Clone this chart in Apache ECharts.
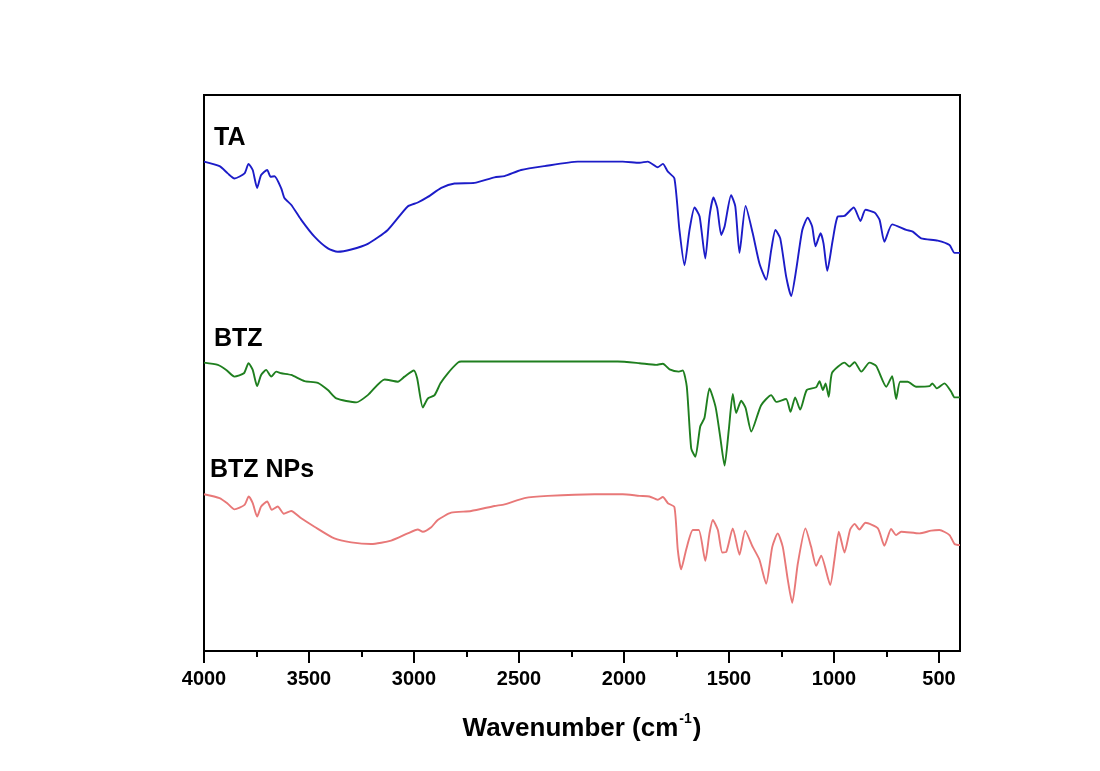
<!DOCTYPE html>
<html><head><meta charset="utf-8">
<script src="https://cdn.jsdelivr.net/npm/echarts@6/dist/echarts.min.js"></script>
<style>html,body{margin:0;padding:0;background:#fff}#c{width:1100px;height:771px}</style>
</head><body><div id="c"></div>
<script>
// Wavenumber (cm-1) and relative transmittance (a.u., stacked offsets)
const taWn = [4000,3926,3887,3855,3807,3788,3768,3747,3728,3699,3683,3664,3632,3617,3585,3537,3474,3410,3363,3299,3220,3125,3030,2982,2934,2870,2807,2712,2617,2569,2490,2379,2220,2140,2006,1926,1887,1839,1815,1791,1760,1736,1712,1688,1664,1640,1613,1593,1574,1556,1537,1521,1490,1470,1450,1421,1387,1355,1323,1299,1279,1256,1228,1204,1180,1151,1125,1104,1088,1064,1050,1032,1006,982,950,906,874,850,807,783,760,723,656,625,585,506,450,426,400];
const taT = [88.1,87.3,86.0,85.1,86.0,87.7,86.6,83.4,85.7,86.6,85.4,85.5,83.3,81.6,80.4,77.7,74.7,72.6,72.0,72.4,73.4,75.9,80.1,80.8,81.8,83.4,84.2,84.3,85.3,85.5,86.6,87.3,88.1,88.1,88.1,87.9,88.1,87.1,87.7,86.3,85.1,75.9,69.6,75.9,79.9,78.3,70.8,78.3,81.7,79.8,75.0,76.5,82.1,80.1,71.8,80.2,75.3,69.9,67.0,72.3,75.9,74.4,67.6,64.1,68.8,75.9,78.1,76.5,73.0,75.3,73.5,68.6,74.1,78.3,78.4,79.9,77.5,79.5,79.0,77.7,73.8,76.9,75.9,75.6,74.4,74.0,73.2,71.8,71.8];

const btzWn = [4000,3934,3894,3855,3810,3788,3768,3747,3728,3704,3680,3656,3632,3585,3521,3458,3410,3370,3275,3220,3140,3077,3045,3001,2985,2958,2934,2902,2874,2839,2791,2775,2030,1926,1847,1815,1783,1739,1720,1701,1680,1660,1637,1617,1593,1564,1542,1521,1501,1482,1466,1442,1421,1394,1347,1299,1275,1228,1207,1185,1161,1130,1085,1069,1053,1040,1025,1009,950,926,902,870,831,799,751,723,704,685,649,609,545,532,510,474,442,426,400];
const btzT = [52.2,51.8,50.9,49.7,50.3,52.1,50.9,48.0,50.0,50.9,49.7,50.6,50.3,50.0,48.9,48.6,47.3,45.8,45.1,46.4,49.2,48.8,49.7,50.8,49.4,44.2,45.8,46.4,48.5,50.3,52.2,52.4,52.4,52.1,51.8,52.0,51.0,50.6,50.8,47.9,36.9,35.4,40.8,42.3,47.6,44.3,39.0,33.8,40.2,46.6,43.2,45.4,44.1,39.9,44.6,46.4,45.2,45.7,43.4,46.0,43.8,47.3,47.8,48.9,47.3,48.5,46.1,50.4,52.2,51.5,52.3,50.6,52.2,51.6,47.9,49.8,45.7,48.8,48.8,47.9,48.0,48.5,47.6,48.5,47.0,46.0,46.0];

const npWn = [4000,3926,3887,3855,3807,3787,3768,3747,3728,3699,3677,3649,3620,3585,3537,3474,3379,3299,3204,3109,3030,2982,2958,2918,2887,2823,2728,2617,2569,2474,2363,2140,2006,1926,1879,1839,1815,1791,1760,1744,1728,1704,1672,1644,1613,1593,1577,1553,1532,1513,1482,1450,1423,1387,1355,1323,1294,1268,1244,1220,1199,1172,1136,1109,1085,1061,1018,998,977,950,923,902,879,850,791,760,728,704,680,593,537,498,450,426,400];
const npT = [28.7,28.0,27.0,26.0,26.8,28.3,27.1,24.7,26.5,27.4,25.9,26.5,25.2,25.7,24.4,22.9,20.8,20.1,19.8,20.4,21.7,22.4,22.0,22.8,24.1,25.4,25.7,26.6,26.9,28.0,28.4,28.7,28.7,28.4,28.3,27.7,28.2,27.1,26.4,18.8,15.3,18.8,22.3,22.3,16.8,21.7,24.1,22.3,18.3,18.4,22.6,17.9,22.2,19.3,17.0,12.7,19.3,21.7,19.3,13.4,9.3,16.4,22.6,19.3,15.9,17.7,12.5,17.0,22.0,18.3,22.4,23.4,22.4,23.6,22.6,19.5,22.5,21.4,22.0,21.7,22.2,22.3,21.4,19.8,19.6];

const majorTicks = [4000,3500,3000,2500,2000,1500,1000,500];
const minorTicks = [3750,3250,2750,2250,1750,1250,750];
const seriesNames = ['TA','BTZ','BTZ NPs'];
const seriesColors = ['#1c1cc8','#1f7f1f','#e87878'];

const zip = (a,b) => a.map((v,i) => [v,b[i]]);
const FONT = '"Liberation Sans", Arial, sans-serif';

const chart = echarts.init(document.getElementById('c'));
chart.setOption({
  animation: false,
  backgroundColor: '#ffffff',
  grid: { left: 204, right: 140, top: 95, bottom: 120, show: true, borderColor: '#000', borderWidth: 2, backgroundColor: 'transparent' },
  xAxis: [{
    type: 'value', min: 400, max: 4000, inverse: true, position: 'bottom',
    axisLine: { show: true, lineStyle: { color: '#000', width: 2 } },
    axisTick: { show: true, length: 12, lineStyle: { color: '#000', width: 2 }, customValues: majorTicks },
    axisLabel: { show: true, customValues: majorTicks, margin: 18, color: '#000', fontSize: 20, fontWeight: 'bold', fontFamily: FONT, formatter: v => String(v) },
    splitLine: { show: false },
    name: 'Wavenumber (cm{sup|-1})', nameLocation: 'middle', nameGap: 61,
    nameTextStyle: { color: '#000', fontSize: 26, fontWeight: 'bold', fontFamily: FONT,
      rich: { sup: { fontSize: 14, fontWeight: 'bold', fontFamily: FONT, color: '#000', verticalAlign: 'top', padding: [0,1,20,1] } } }
  },{
    type: 'value', min: 400, max: 4000, inverse: true, position: 'bottom',
    axisLine: { show: false },
    axisTick: { show: true, length: 6, lineStyle: { color: '#000', width: 2 }, customValues: minorTicks },
    axisLabel: { show: false }, splitLine: { show: false }
  }],
  yAxis: { type: 'value', min: 0.7, max: 100, show: false, splitLine: { show: false } },
  graphic: [
    { type: 'text', left: 214, top: 126, style: { text: seriesNames[0], fill: '#000', font: 'bold 25px ' + FONT } },
    { type: 'text', left: 214, top: 327, style: { text: seriesNames[1], fill: '#000', font: 'bold 25px ' + FONT } },
    { type: 'text', left: 210, top: 458, style: { text: seriesNames[2], fill: '#000', font: 'bold 25px ' + FONT } }
  ],
  series: [
    { name: seriesNames[0], type: 'line', data: zip(taWn, taT), showSymbol: false, smooth: 0.2, lineStyle: { color: seriesColors[0], width: 1.9 }, itemStyle: { color: seriesColors[0] } },
    { name: seriesNames[1], type: 'line', data: zip(btzWn, btzT), showSymbol: false, smooth: 0.2, lineStyle: { color: seriesColors[1], width: 1.9 }, itemStyle: { color: seriesColors[1] } },
    { name: seriesNames[2], type: 'line', data: zip(npWn, npT), showSymbol: false, smooth: 0.2, lineStyle: { color: seriesColors[2], width: 1.9 }, itemStyle: { color: seriesColors[2] } }
  ]
});
</script></body></html>
